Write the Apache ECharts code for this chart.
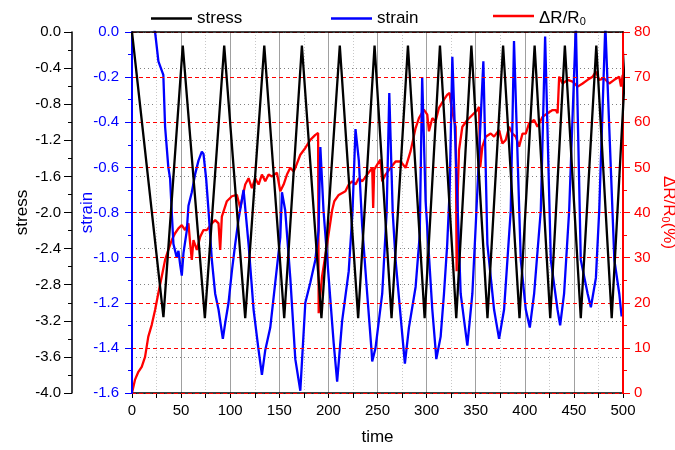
<!DOCTYPE html>
<html>
<head>
<meta charset="utf-8">
<script src="https://cdn.jsdelivr.net/npm/echarts/dist/echarts.min.js"></script>
<style>
  html, body { margin: 0; padding: 0; background: #fff; }
  #main { width: 675px; height: 450px; }
</style>
</head>
<body>
<div id="main"></div>
<script>
// stress (black, left outer axis)
let stressTime = [0, 32, 51.7, 74.2, 93.9, 115.3, 134.7, 155, 173, 192.9, 211.6, 230.3, 247, 264.3, 281, 298, 313.6,
  330.2, 345.6, 362, 377.9, 394.6, 410, 425.9, 440.8, 457, 472.8, 488.5, 503.5]
let stressValue = [0, -3.16, -0.15, -3.17, -0.15, -3.17, -0.15, -3.17, -0.15, -3.17, -0.15, -3.17, -0.15, -3.17, -0.15,
  -3.17, -0.15, -3.17, -0.15, -3.17, -0.15, -3.17, -0.15, -3.17, -0.15, -3.17, -0.15, -3.17, -0.15]

// strain (blue, left inner axis)
let strainTime = [22, 23.5, 26.9, 31.9, 33.7, 37, 38.8, 40.5, 42.2, 45.6, 47.3, 49, 50.7, 52.4, 55.8, 57.5, 60.9, 64.3,
  66, 67.7, 71.1, 72.8, 75.5, 77.9, 81.3, 84.7, 88.1, 92.5, 94.9, 98.3, 101.7, 105.1, 108.5, 113.6, 118.7, 123.8,
  128.9, 132.3, 135.7, 140.8, 145.9, 151, 152.7, 156, 161.2, 166.3, 171.4, 176.5, 181.6, 186.7, 190, 191.8, 195,
  200.3, 205.4, 208.9, 214, 220.7, 224.5, 227.6, 231, 234.4, 239.5, 243.9, 244.6, 248, 254.8, 259.3, 262, 265.5,
  268.4, 275.2, 277.9, 282, 288.8, 293, 295.5, 299, 305.8, 309.2, 309.9, 314.3, 317.7, 321, 323.5, 326.2, 334.7,
  341.5, 346.6, 350, 357.8, 361.9, 368.7, 373.8, 378.9, 382.3, 385.7, 389, 395.9, 401, 405.1, 409.5, 416.3, 420.7,
  426.5, 433.3, 436, 440, 445.2, 452, 457, 464, 467.3, 472.4, 475.8, 482, 491.2, 496.2, 498.6, 500]
let strainValue = [0.02, 0, -0.13, -0.19, -0.42, -0.6, -0.65, -0.8, -0.94, -1.0, -0.97, -1.03, -1.08, -0.98, -0.88,
  -0.77, -0.71, -0.63, -0.63, -0.57, -0.53, -0.54, -0.65, -0.79, -1.01, -1.16, -1.23, -1.36, -1.29, -1.2, -1.06,
  -0.94, -0.83, -0.7, -0.94, -1.23, -1.41, -1.52, -1.41, -1.31, -1.11, -0.91, -0.71, -0.79, -1.09, -1.45, -1.59,
  -1.2, -1.11, -1.01, -0.88, -0.51, -0.79, -1.09, -1.38, -1.55, -1.28, -1.06, -0.8, -0.43, -0.57, -0.86, -1.16,
  -1.41, -1.46, -1.4, -1.16, -0.8, -0.27, -0.8, -1.01, -1.34, -1.47, -1.31, -1.13, -0.9, -0.2, -0.75, -1.23, -1.41,
  -1.45, -1.35, -1.16, -0.94, -0.7, -0.11, -1.16, -1.39, -1.16, -0.86, -0.13, -0.94, -1.23, -1.36, -1.23, -1.01,
  -0.79, -0.04, -1.01, -1.23, -1.31, -1.16, -0.79, -0.02, -1.01, -1.23, -1.3, -1.16, -0.79, 0.03, -1.01, -1.16,
  -1.22, -1.09, -0.79, 0.03, -1.01, -1.16, -1.26, -1.24]

// dR/R0 (red, right axis)
let resTime = [0, 3, 6.5, 9.9, 13.3, 16.6, 20.1, 23.5, 26.8, 30.3, 33.7, 37, 40.5, 43.9, 47.3, 50.7, 54, 57.5, 59.2,
  60.9, 62.6, 66, 69.4, 72.8, 76.2, 81.3, 84.7, 88.1, 89.8, 91.5, 96.6, 101.7, 106.8, 110.2, 115.3, 118.7, 122.1,
  125.5, 128.9, 132.3, 135.7, 139.1, 142.5, 147.6, 151, 154.4, 157.8, 161.2, 164.6, 166.3, 171.4, 176.5, 181.6,
  186.7, 189.5, 190.1, 193.5, 198.7, 203.8, 206, 210.5, 217.3, 220.7, 224.2, 227.6, 231, 234.4, 239.5, 244.6, 245.6,
  246.6, 249.7, 253, 254.8, 258.2, 263.3, 268.4, 273.5, 278.6, 283.7, 288.8, 292.2, 297.2, 300.7, 302.4, 305.8,
  309.2, 312.6, 317.7, 321.1, 323.5, 324.5, 327.9, 329.6, 330.6, 331.8, 333, 336.4, 341.5, 348.3, 351.7, 353.4,
  354.6, 356.8, 360.2, 365.3, 368.7, 373.8, 377.2, 380.6, 384, 387.4, 390.8, 394.2, 397.7, 401, 404.4, 409.5,
  412.9, 418.1, 423.2, 428.3, 431.6, 433.4, 435, 438.5, 443.6, 448.7, 453.8, 458.9, 464, 469.1, 472.4, 475.8,
  480.9, 486, 491.1, 496.2, 498, 499.7]
let resValue = [0, 2.9, 4.7, 5.8, 8, 12.5, 15.1, 18.4, 22.1, 25.8, 29.5, 31.7, 33.9, 35.4, 36.5, 37.2, 36.1, 37.6,
  33.2, 29.5, 33.9, 31.7, 34.6, 36.1, 36.1, 37.6, 38.3, 37.6, 31.7, 39.1, 42.5, 43.6, 43.9, 41, 46.2, 47.6, 45.4,
  47.6, 46.2, 48.4, 46.9, 48.4, 48, 48.8, 44.7, 46.2, 48.4, 49.9, 49.1, 49.9, 52.8, 54.3, 56.1, 57.2, 57.6, 17.7,
  25.8, 33, 40.5, 42.5, 43.9, 44.7, 46.2, 46.9, 46.2, 47.6, 46.9, 48.4, 49.9, 41, 49.5, 50.6, 51.7, 46.9, 48.4,
  49.9, 51.3, 51.3, 49.9, 53.6, 58.7, 60.9, 62.8, 61.7, 58, 60.9, 60.2, 63.2, 65, 66.1, 66.5, 64.6, 60.5, 59, 27,
  45, 53.8, 59, 60.5, 62, 62.7, 63.4, 50, 54.6, 56.8, 57.5, 56.8, 58.3, 55.3, 56.1, 59, 57.5, 56.8, 54.6, 57.5,
  57.5, 59.8, 60.5, 59, 61.2, 62, 62.7, 62.7, 62, 70.1, 68.6, 69.4, 69, 67.9, 68.6, 69.4, 70.1, 71.2, 69.4, 69.7,
  68.6, 69.4, 70.1, 67.9, 70.5]

function zip(xs, ys) {
  let out = []
  for (let i = 0; i < xs.length; i++) {
    out.push([xs[i], ys[i]])
  }
  return out
}

function fmt1(v) {
  if (Math.abs(v) < 1e-9) return '0.0'
  return v.toFixed(1)
}

let FONT = '"Liberation Sans", Arial, sans-serif'
let chart = echarts.init(document.getElementById('main'))

// subscript "0" in dR/R0
let subRich = {
  m: { fontSize: 17, lineHeight: 22, fontFamily: FONT, verticalAlign: 'bottom' },
  s: { fontSize: 11, lineHeight: 14, fontFamily: FONT, verticalAlign: 'bottom' }
}

function legendStyle(left) {
  return {
    left: left, top: 5, icon: 'rect', itemWidth: 41, itemHeight: 2.5,
    textStyle: { fontSize: 17, color: '#000', fontFamily: FONT, rich: subRich }
  }
}

let lg3 = legendStyle(488)
lg3.data = ['ΔR/R0']
lg3.formatter = function () { return '{m|ΔR/R}{s|0}' }
let lg1 = legendStyle(146)
lg1.data = ['stress']
let lg2 = legendStyle(326)
lg2.data = ['strain']

let option = {
  animation: false,
  backgroundColor: '#fff',
  textStyle: { fontFamily: FONT },
  grid: { left: 132, right: 52, top: 32, bottom: 57, outerBoundsMode: 'none' },
  legend: [lg1, lg2, lg3],
  xAxis: [
    {
      type: 'value', min: 0, max: 500, interval: 50, position: 'bottom',
      name: 'time', nameLocation: 'middle', nameGap: 36, nameMoveOverlap: false,
      nameTextStyle: { fontSize: 17, color: '#000', fontFamily: FONT },
      axisLine: { show: true, onZero: false, lineStyle: { color: '#000', width: 1.5 } },
      axisTick: { show: true, length: 5, lineStyle: { color: '#000' } },
      minorTick: { show: true, splitNumber: 2, length: 5, lineStyle: { color: '#000' } },
      axisLabel: { fontSize: 15, color: '#000', margin: 10, fontFamily: FONT },
      splitLine: { show: true, lineStyle: { color: '#a0a0a0', width: 1 } },
      minorSplitLine: { show: true, lineStyle: { color: '#c8c8c8', width: 1, type: [1, 2] } }
    },
    {
      type: 'value', min: 0, max: 500, position: 'top', z: 5,
      axisLine: { show: true, onZero: false, lineStyle: { color: '#000', width: 1.5 } },
      axisTick: { show: false }, axisLabel: { show: false }, splitLine: { show: false }
    }
  ],
  yAxis: [
    {
      type: 'value', position: 'left', offset: 60, min: -4, max: 0, interval: 0.4,
      name: 'stress', nameLocation: 'middle', nameRotate: 90, nameGap: 41, nameMoveOverlap: false,
      nameTextStyle: { fontSize: 17, color: '#000', fontFamily: FONT },
      axisLine: { show: true, onZero: false, lineStyle: { color: '#000', width: 1.5 } },
      axisTick: { show: true, length: 8, lineStyle: { color: '#000' } },
      minorTick: { show: true, splitNumber: 2, length: 4, lineStyle: { color: '#000' } },
      axisLabel: { fontSize: 15, color: '#000', margin: 11, formatter: fmt1, fontFamily: FONT },
      splitLine: { show: true, lineStyle: { color: '#808080', width: 1, type: [1, 3] } }
    },
    {
      type: 'value', position: 'left', offset: 0, min: -1.6, max: 0, interval: 0.2, z: 4,
      name: 'strain', nameLocation: 'middle', nameRotate: 90, nameGap: 36, nameMoveOverlap: false,
      nameTextStyle: { fontSize: 17, color: '#0000ff', fontFamily: FONT },
      axisLine: { show: true, onZero: false, lineStyle: { color: '#0000ff', width: 2 } },
      axisTick: { show: true, length: 7, lineStyle: { color: '#0000ff' } },
      minorTick: { show: true, splitNumber: 2, length: 4, lineStyle: { color: '#0000ff' } },
      axisLabel: { fontSize: 15, color: '#0000ff', margin: 13, formatter: fmt1, fontFamily: FONT },
      splitLine: { show: false }
    },
    {
      type: 'value', position: 'right', min: 0, max: 80, interval: 10, z: 4,
      name: '{m|ΔR/R}{s|0}{m|(%)}', nameLocation: 'middle', nameRotate: -90, nameGap: 37, nameMoveOverlap: false,
      nameTextStyle: { fontSize: 17, color: '#ff0000', fontFamily: FONT, rich: subRich },
      axisLine: { show: true, onZero: false, lineStyle: { color: '#ff0000', width: 2 } },
      axisTick: { show: true, length: 7, lineStyle: { color: '#ff0000' } },
      minorTick: { show: true, splitNumber: 2, length: 4, lineStyle: { color: '#ff0000' } },
      axisLabel: { fontSize: 15, color: '#ff0000', margin: 11, fontFamily: FONT },
      splitLine: { show: true, lineStyle: { color: '#ff0000', width: 1, type: [4, 3] } }
    }
  ],
  series: [
    {
      name: 'ΔR/R0', type: 'line', xAxisIndex: 0, yAxisIndex: 2,
      data: zip(resTime, resValue), symbol: 'none', clip: true,
      lineStyle: { color: '#ff0000', width: 2.3 }, itemStyle: { color: '#ff0000' }, z: 2
    },
    {
      name: 'strain', type: 'line', xAxisIndex: 0, yAxisIndex: 1,
      data: zip(strainTime, strainValue), symbol: 'none', clip: true,
      lineStyle: { color: '#0000ff', width: 2.3 }, itemStyle: { color: '#0000ff' }, z: 3
    },
    {
      name: 'stress', type: 'line', xAxisIndex: 0, yAxisIndex: 0,
      data: zip(stressTime, stressValue), symbol: 'none', clip: false,
      lineStyle: { color: '#000', width: 2.3 }, itemStyle: { color: '#000' }, z: 4
    }
  ]
}

chart.setOption(option)
</script>
</body>
</html>
